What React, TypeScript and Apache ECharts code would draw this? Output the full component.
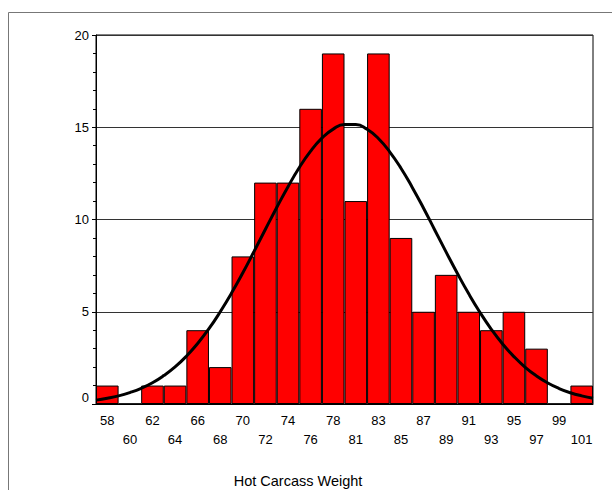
import React, { useEffect, useRef } from "react";
import * as echarts from "echarts";

const categories = ["58","60","62","64","66","68","70","72","74","76","78","81","83","85","87","89","91","93","95","97","99","101"];
const counts = [1,0,1,1,4,2,8,12,12,16,19,11,19,9,5,7,5,4,5,3,0,1];
// fitted normal curve, positions in bin-index units
const curvePos = [-0.5,0,0.5,1,1.5,2,2.5,3,3.5,4,4.5,5,5.5,6,6.5,7,7.5,8,8.5,9,9.5,10,10.5,11,11.5,12,12.5,13,13.5,14,14.5,15,15.5,16,16.5,17,17.5,18,18.5,19,19.5,20,20.5,21,21.5];
const curveVal = [0.21,0.31,0.44,0.62,0.85,1.15,1.54,2.01,2.59,3.28,4.08,5.0,6.01,7.11,8.28,9.47,10.65,11.78,12.82,13.71,14.41,14.9,15.15,15.15,14.89,14.39,13.67,12.78,11.74,10.61,9.42,8.23,7.07,5.97,4.96,4.05,3.25,2.57,1.99,1.52,1.14,0.84,0.61,0.44,0.31];
const yTicks = [0, 5, 10, 15, 20];
const xTitle = "Hot Carcass Weight";

export default function App() {
  const ref = useRef<HTMLDivElement>(null);
  useEffect(() => {
    if (!ref.current) return;
    const chart = echarts.init(ref.current, null, { renderer: "svg" });
    const font = "Liberation Sans, Arial, sans-serif";
    const yMin = yTicks[0];
    const yMax = yTicks[yTicks.length - 1];
    chart.setOption({
      animation: false,
      backgroundColor: "#fff",
      grid: { left: 96, top: 35, right: 19, bottom: 86, show: true, borderColor: "#000", borderWidth: 1, backgroundColor: "transparent" },
      xAxis: [
        {
          type: "category",
          data: categories,
          boundaryGap: true,
          axisLine: { onZero: false, lineStyle: { color: "#000", width: 1 } },
          axisTick: { alignWithLabel: true, length: 4, lineStyle: { color: "#000" } },
          axisLabel: {
            interval: 0,
            color: "#000",
            fontFamily: font,
            fontSize: 13,
            lineHeight: 19,
            margin: 7,
            formatter: (v: string, i: number) => (i % 2 === 0 ? v : "\n" + v),
          },
          splitLine: { show: false },
        },
        { type: "value", min: -0.5, max: 21.5, show: false, axisLine: { onZero: false } },
      ],
      yAxis: [
        {
          type: "value",
          min: yMin,
          max: yMax,
          interval: 5,
          axisLine: { show: true, onZero: false, lineStyle: { color: "#000" } },
          axisTick: { show: true, length: 4, lineStyle: { color: "#000" } },
          axisLabel: {
            color: "#000",
            fontFamily: font,
            fontSize: 13,
            margin: 7,
            formatter: (v: number) => (v === 0 ? "{z|0}" : String(v)),
            rich: { z: { fontFamily: font, fontSize: 13, color: "#000", padding: [0, 0, 14, 0] } },
          },
          splitLine: { show: true, lineStyle: { color: "#333", width: 1 } },
        },
        {
          type: "value",
          min: yMin,
          max: yMax,
          interval: 1,
          position: "left",
          axisLine: { show: false, onZero: false },
          axisTick: { show: true, length: 3, lineStyle: { color: "#000" } },
          axisLabel: { show: false },
          splitLine: { show: false },
        },
      ],
      graphic: [
        { type: "rect", shape: { x: 8.5, y: 12.5, width: 700, height: 600 }, style: { fill: "none", stroke: "#777", lineWidth: 1 }, silent: true },
        { type: "text", x: 298, y: 481, style: { text: xTitle, fontFamily: font, fontSize: 14.5, fill: "#000", align: "center", verticalAlign: "middle" } },
      ],
      series: [
        {
          type: "bar",
          data: counts,
          barCategoryGap: "0%",
          itemStyle: { color: "#ff0000", borderColor: "#000", borderWidth: 1 },
          z: 2,
        },
        {
          type: "line",
          xAxisIndex: 1,
          data: curvePos.map((x, i) => [x, curveVal[i]]),
          smooth: true,
          showSymbol: false,
          lineStyle: { color: "#000", width: 3 },
          z: 3,
        },
      ],
    });
    return () => chart.dispose();
  }, []);
  return <div ref={ref} style={{ position: "fixed", left: 0, top: 0, width: 612, height: 490 }} />;
}
